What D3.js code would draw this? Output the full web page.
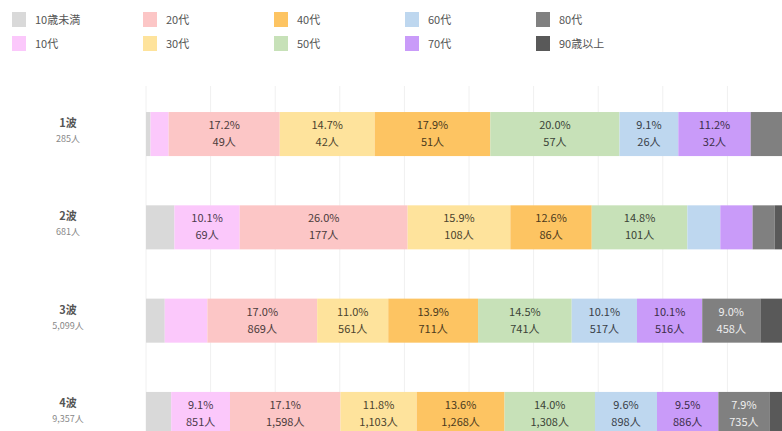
<!DOCTYPE html>
<html>
<head>
<meta charset="utf-8">
<script src="https://cdn.jsdelivr.net/npm/d3@7"></script>
<style>
  body { margin: 0; background: #fff; }
  svg { font-family: "Noto Sans CJK JP", "Noto Sans", sans-serif; }
</style>
</head>
<body>
<svg width="782" height="431"></svg>
<script>
// age groups + colours
var ages = ["10歳未満", "10代", "20代", "30代", "40代", "50代", "60代", "70代", "80代", "90歳以上"];
var colors = ["#d9d9d9", "#fbc8fb", "#fcc6c6", "#fee39c", "#fdc462", "#c7e1b8", "#bed7ef", "#c99bf9", "#808080", "#595959"];

var waves = ["1波", "2波", "3波", "4波"];
var totals = ["285人", "681人", "5,099人", "9,357人"];

// percent per age group, per wave
var pct1 = [0.7, 2.8, 17.2, 14.7, 17.9, 20.0, 9.1, 11.2, 4.9, 1.4];
var pct2 = [4.4, 10.1, 26.0, 15.9, 12.6, 14.8, 5.1, 5.0, 3.4, 2.6];
var pct3 = [2.9, 6.6, 17.0, 11.0, 13.9, 14.5, 10.1, 10.1, 9.0, 4.7];
var pct4 = [3.9, 9.1, 17.1, 11.8, 13.6, 14.0, 9.6, 9.5, 7.9, 3.7];

// people per age group, per wave
var cnt1 = [2, 8, 49, 42, 51, 57, 26, 32, 14, 4];
var cnt2 = [30, 69, 177, 108, 86, 101, 35, 34, 23, 18];
var cnt3 = [150, 334, 869, 561, 711, 741, 517, 516, 458, 242];
var cnt4 = [365, 851, 1598, 1103, 1268, 1308, 898, 886, 735, 345];

var pcts = [pct1, pct2, pct3, pct4];
var cnts = [cnt1, cnt2, cnt3, cnt4];

var svg = d3.select("svg");

var x = d3.scaleLinear().domain([0, 100]).range([146, 792]);
var y = d3.scaleBand().domain(waves).range([87.4, 460.6]).paddingInner(0.528).paddingOuter(0.264);
var color = d3.scaleOrdinal().domain(ages).range(colors);

// faint vertical grid
svg.append("g")
    .selectAll("line")
    .data(d3.range(0, 101, 10))
    .enter().append("line")
    .attr("x1", function (d) { return x(d); })
    .attr("x2", function (d) { return x(d); })
    .attr("y1", 86)
    .attr("y2", 431)
    .attr("stroke", "#f0f0f0")
    .attr("stroke-width", 1);

// build rows
var rows = waves.map(function (w, i) {
    var acc = 0;
    return ages.map(function (a, j) {
        var seg = {wave: w, age: a, pct: pcts[i][j], cnt: cnts[i][j], x0: acc};
        acc += pcts[i][j];
        seg.x1 = acc;
        return seg;
    });
});

var fmt = d3.format(",");

var row = svg.selectAll(".row")
    .data(rows)
    .enter().append("g")
    .attr("class", "row");

row.selectAll("rect")
    .data(function (d) { return d; })
    .enter().append("rect")
    .attr("x", function (d) { return x(d.x0); })
    .attr("width", function (d) { return x(d.x1) - x(d.x0); })
    .attr("y", function (d) { return y(d.wave); })
    .attr("height", y.bandwidth())
    .attr("fill", function (d) { return color(d.age); });

var lab = row.selectAll(".lab")
    .data(function (d) { return d.filter(function (s) { return s.pct >= 7; }); })
    .enter().append("text")
    .attr("class", "lab")
    .attr("text-anchor", "middle")
    .attr("font-size", 11)
    .attr("fill", function (d) {
        var c = color(d.age);
        if (d.age == "80代" || d.age == "90歳以上") return "#eeeeee";
        return d3.color(c).darker(3.4);
    });

lab.append("tspan")
    .attr("x", function (d) { return (x(d.x0) + x(d.x1)) / 2; })
    .attr("y", function (d) { return y(d.wave) + y.bandwidth() / 2 - 5; })
    .text(function (d) { return d.pct.toFixed(1) + "%"; });

lab.append("tspan")
    .attr("x", function (d) { return (x(d.x0) + x(d.x1)) / 2; })
    .attr("y", function (d) { return y(d.wave) + y.bandwidth() / 2 + 12; })
    .text(function (d) { return fmt(d.cnt) + "人"; });

// wave labels on the left
var wl = svg.append("g").selectAll("text")
    .data(waves)
    .enter().append("text")
    .attr("text-anchor", "middle");

wl.append("tspan")
    .attr("x", 68)
    .attr("y", function (d) { return y(d) + y.bandwidth() / 2 - 7; })
    .attr("font-size", 11)
    .attr("font-weight", "bold")
    .attr("fill", "#555")
    .text(function (d) { return d; });

wl.append("tspan")
    .attr("x", 68)
    .attr("y", function (d, i) { return y(d) + y.bandwidth() / 2 + 8; })
    .attr("font-size", 9)
    .attr("fill", "#888")
    .text(function (d, i) { return totals[i]; });

// legend, 2 rows x 5 cols
var legend = svg.append("g").selectAll("g")
    .data(ages)
    .enter().append("g")
    .attr("transform", function (d, i) {
        var col = Math.floor(i / 2), r = i % 2;
        return "translate(" + (12 + col * 131) + "," + (12 + r * 24) + ")";
    });

legend.append("rect")
    .attr("width", 14)
    .attr("height", 15)
    .attr("fill", function (d) { return color(d); });

legend.append("text")
    .attr("x", 23)
    .attr("y", 12)
    .attr("font-size", 11)
    .attr("fill", "#555")
    .text(function (d) { return d; });
</script>
</body>
</html>
